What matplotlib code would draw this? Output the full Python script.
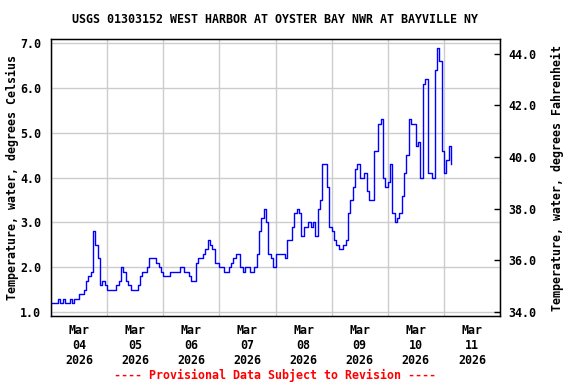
import numpy as np
import pandas as pd
import matplotlib
matplotlib.use("Agg")
import matplotlib.pyplot as plt
import matplotlib.dates as mdates

# ==============================
# Data (hourly water temperature, deg C)
# ==============================
START = "2026-03-04 00:00"

temp_c = [
    # Mar 04
    1.2, 1.2, 1.2, 1.3, 1.2, 1.3, 1.2, 1.2, 1.3, 1.2, 1.3, 1.3,
    1.4, 1.4, 1.5, 1.7, 1.8, 1.9, 2.8, 2.5, 2.2, 1.6, 1.7, 1.6,
    # Mar 05
    1.5, 1.5, 1.5, 1.5, 1.6, 1.7, 2.0, 1.9, 1.7, 1.6, 1.5, 1.5,
    1.5, 1.6, 1.8, 1.9, 1.9, 2.0, 2.2, 2.2, 2.2, 2.1, 2.0, 1.9,
    # Mar 06
    1.8, 1.8, 1.8, 1.9, 1.9, 1.9, 1.9, 2.0, 2.0, 1.9, 1.9, 1.8,
    1.7, 1.7, 2.1, 2.2, 2.2, 2.3, 2.4, 2.6, 2.5, 2.4, 2.1, 2.1,
    # Mar 07
    2.0, 2.0, 1.9, 1.9, 2.0, 2.1, 2.2, 2.3, 2.3, 2.0, 1.9, 2.0,
    2.0, 1.9, 1.9, 2.0, 2.3, 2.8, 3.1, 3.3, 3.0, 2.3, 2.2, 2.0,
    # Mar 08
    2.3, 2.3, 2.3, 2.3, 2.2, 2.6, 2.6, 2.9, 3.2, 3.3, 3.2, 2.7,
    2.9, 2.9, 3.0, 2.9, 3.0, 2.7, 3.3, 3.5, 4.3, 4.3, 3.8, 2.9,
    # Mar 09
    2.8, 2.6, 2.5, 2.4, 2.4, 2.5, 2.6, 3.2, 3.5, 3.8, 4.2, 4.3,
    4.0, 4.0, 4.1, 3.7, 3.5, 3.5, 4.6, 4.6, 5.2, 5.3, 4.0, 3.8,
    # Mar 10
    3.9, 4.3, 3.2, 3.0, 3.1, 3.2, 3.6, 4.1, 4.5, 5.3, 5.2, 5.2,
    4.7, 4.8, 4.0, 6.1, 6.2, 4.1, 4.1, 4.0, 6.4, 6.9, 6.6, 4.6,
    # Mar 11
    4.1, 4.4, 4.7, 4.3,
]

day_labels = ["Mar\n04\n2026", "Mar\n05\n2026", "Mar\n06\n2026", "Mar\n07\n2026",
              "Mar\n08\n2026", "Mar\n09\n2026", "Mar\n10\n2026", "Mar\n11\n2026"]

title = "USGS 01303152 WEST HARBOR AT OYSTER BAY NWR AT BAYVILLE NY"

# ==============================
# Plot
# ==============================
times = pd.date_range(START, periods=len(temp_c), freq="h")
t0 = pd.Timestamp(START)
t1 = t0 + pd.Timedelta(days=8)

font = dict(family="DejaVu Sans Mono", weight="bold", size=8.4)

fig = plt.figure(figsize=(5.76, 3.84), dpi=100)
ax = fig.add_axes([51 / 576, 68 / 384, 449 / 576, 277 / 384])

ax.plot(times, temp_c, color="#0000ff", linewidth=1.0, drawstyle="steps-post")
ax.set_xlim(t0, t1)
ax.set_ylim(0.911, 7.096)

# gridlines at midnight, labels at noon
ax.xaxis.set_major_locator(mdates.DayLocator())
ax.xaxis.set_major_formatter(plt.NullFormatter())
noons = [t0 + pd.Timedelta(hours=12 + 24 * i) for i in range(len(day_labels))]
ax.set_xticks(noons, minor=True)
ax.set_xticklabels(day_labels, minor=True, **font)
ax.tick_params(axis="x", which="both", length=0, pad=6)
ax.tick_params(axis="x", which="minor", labelsize=8.4)

ax.set_yticks(np.arange(1, 8))
ax.set_yticklabels([f"{v:.1f}" for v in range(1, 8)], **font)
ax.tick_params(axis="y", length=0, pad=7)

ax.grid(True, which="major", color="#cccccc", linewidth=1.0)
ax.set_axisbelow(True)
for s in ax.spines.values():
    s.set_linewidth(1.0)

# Fahrenheit axis on the right
ax2 = ax.twinx()
ax2.set_ylim(33.83, 44.58)
f_ticks = np.arange(34, 45, 2)
ax2.set_yticks(f_ticks)
ax2.set_yticklabels([f"{v:.1f}" for v in f_ticks], **font)
ax2.tick_params(axis="y", direction="in", length=4, width=1, pad=6)

fig.text(0.478, 0.948, title, ha="center", va="center", **font)
fig.text(0.021, 0.537, "Temperature, water, degrees Celsius",
         rotation=90, ha="center", va="center", **font)
fig.text(0.967, 0.537, "Temperature, water, degrees Fahrenheit",
         rotation=90, ha="center", va="center", **font)
fig.text(0.478, 0.023, "---- Provisional Data Subject to Revision ----",
         ha="center", va="center", color="red", **font)

fig.savefig("out.png", dpi=100)
